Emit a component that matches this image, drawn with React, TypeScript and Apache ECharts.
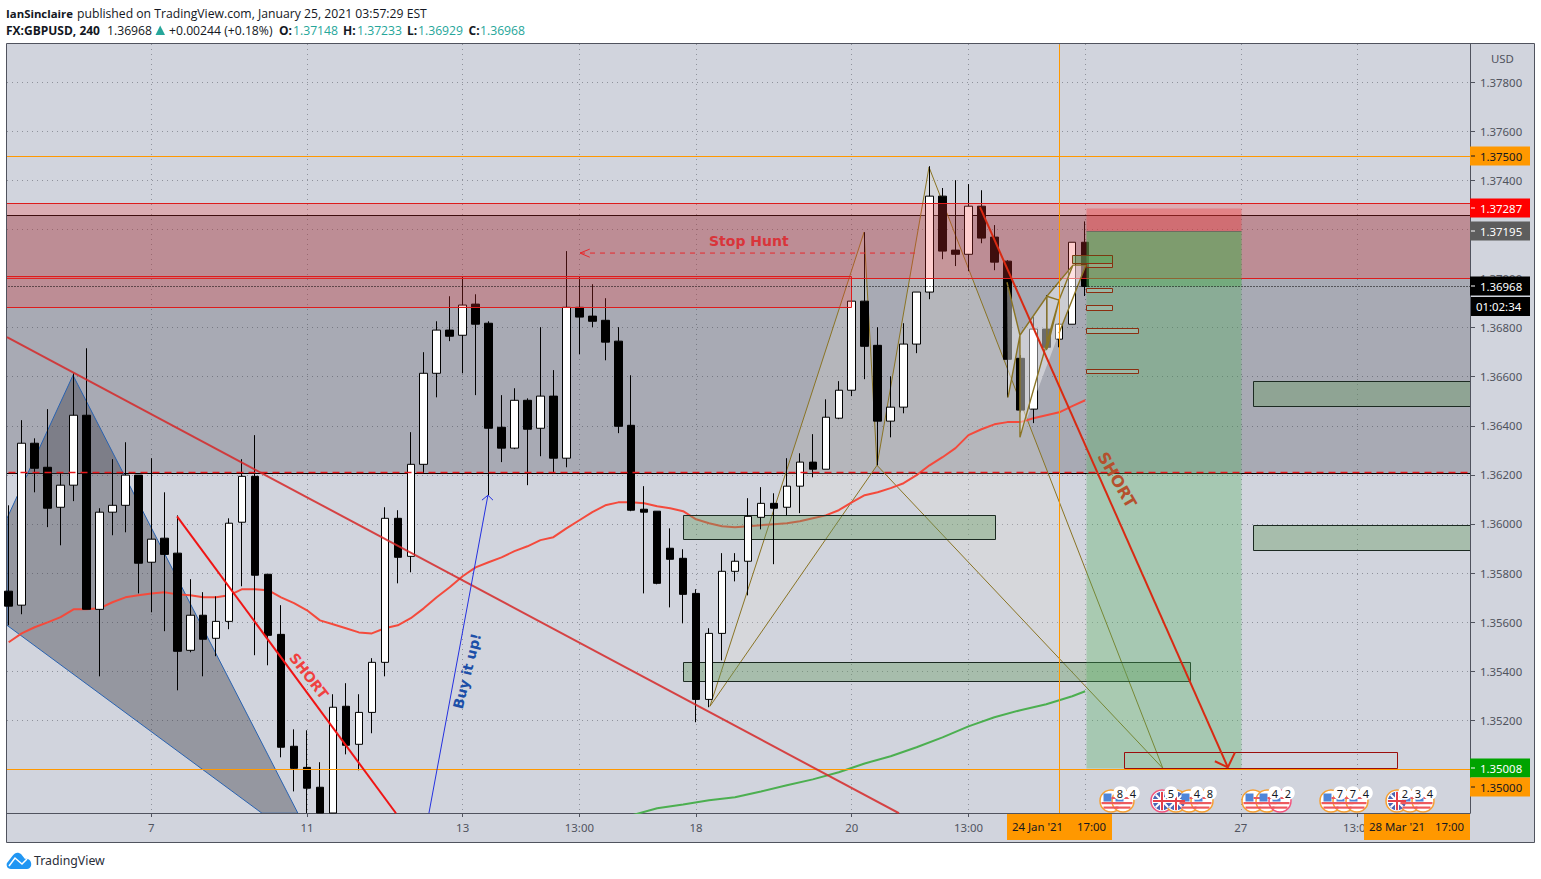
import React, { useEffect, useRef } from "react";
import * as echarts from "echarts";

// ---------- price data: [bar, open, close, low, high] ----------
const candles: number[][] = [
  [0,1.35726,1.35665,1.35587,1.36076],[1,1.35669,1.36329,1.35632,1.36423],[2,1.36329,1.36227,1.36129,1.36349],
  [3,1.36231,1.36064,1.35987,1.36468],[4,1.36068,1.36158,1.35913,1.36207],[5,1.36158,1.36443,1.36093,1.36614],
  [6,1.36443,1.35652,1.35652,1.36716],[7,1.35652,1.36048,1.35379,1.36064],[8,1.36048,1.36076,1.35954,1.36264],
  [9,1.36076,1.36199,1.35966,1.36333],[10,1.36199,1.35840,1.35717,1.36199],[11,1.35844,1.35938,1.35640,1.36268],
  [12,1.35942,1.35876,1.35563,1.36129],[13,1.35881,1.35481,1.35322,1.36035],[14,1.35485,1.35628,1.35477,1.35775],
  [15,1.35628,1.35530,1.35379,1.35722],[16,1.35534,1.35603,1.35461,1.35705],[17,1.35603,1.36003,1.35571,1.36023],
  [18,1.36007,1.36194,1.35746,1.36264],[19,1.36194,1.35791,1.35465,1.36362],[20,1.35795,1.35546,1.35424,1.35795],
  [21,1.35550,1.35090,1.35049,1.35669],[22,1.35094,1.35004,1.34910,1.35163],[23,1.35008,1.34923,1.34822,1.35159],
  [24,1.34927,1.34822,1.34822,1.35029],[25,1.34822,1.35253,1.34822,1.35306],[26,1.35257,1.35098,1.35061,1.35351],
  [27,1.35102,1.35232,1.34996,1.35306],[28,1.35232,1.35436,1.35147,1.35453],[29,1.35436,1.36023,1.35379,1.36068],
  [30,1.36023,1.35864,1.35758,1.36056],[31,1.35868,1.36243,1.35803,1.36374],[32,1.36243,1.36614,1.36207,1.36700],
  [33,1.36614,1.36790,1.36516,1.36826],[34,1.36790,1.36765,1.36745,1.36928],[35,1.36769,1.36892,1.36614,1.37010],
  [36,1.36896,1.36814,1.36525,1.36936],[37,1.36818,1.36390,1.36117,1.36826],[38,1.36394,1.36309,1.36252,1.36525],
  [39,1.36309,1.36504,1.36305,1.36553],[40,1.36504,1.36386,1.36158,1.36512],[41,1.36390,1.36521,1.36276,1.36802],
  [42,1.36521,1.36268,1.36207,1.36627],[43,1.36268,1.36883,1.36231,1.37112],[44,1.36883,1.36843,1.36692,1.37010],
  [45,1.36847,1.36826,1.36802,1.36977],[46,1.36830,1.36741,1.36667,1.36920],[47,1.36745,1.36398,1.36370,1.36802],
  [48,1.36402,1.36056,1.36052,1.36606],[49,1.36060,1.36048,1.35717,1.36154],[50,1.36052,1.35758,1.35754,1.36052],
  [51,1.35901,1.35856,1.35660,1.35982],[52,1.35860,1.35713,1.35595,1.35897],[53,1.35717,1.35285,1.35192,1.35734],
  [54,1.35285,1.35554,1.35253,1.35575],[55,1.35554,1.35807,1.35444,1.35881],[56,1.35807,1.35848,1.35766,1.35881],
  [57,1.35848,1.36031,1.35709,1.36105],[58,1.36027,1.36084,1.35978,1.36150],[59,1.36084,1.36064,1.35836,1.36125],
  [60,1.36068,1.36154,1.36035,1.36268],[61,1.36154,1.36252,1.36044,1.36288],[62,1.36252,1.36223,1.36190,1.36366],
  [63,1.36223,1.36435,1.36223,1.36508],[64,1.36431,1.36545,1.36427,1.36582],[65,1.36545,1.36908,1.36521,1.36908],
  [66,1.36908,1.36724,1.36590,1.37189],[67,1.36728,1.36419,1.36239,1.36802],[68,1.36419,1.36476,1.36353,1.36602],
  [69,1.36476,1.36733,1.36451,1.36818],[70,1.36733,1.36945,1.36696,1.36945],[71,1.36945,1.37336,1.36916,1.37458],
  [72,1.37336,1.37112,1.37079,1.37369],[73,1.37116,1.37099,1.37051,1.37401],[74,1.37099,1.37295,1.37030,1.37385],
  [75,1.37295,1.37165,1.37144,1.37360],[76,1.37169,1.37067,1.37034,1.37218],[77,1.37071,1.36671,1.36516,1.37075],
  [78,1.36675,1.36464,1.36455,1.36688],[79,1.36468,1.36794,1.36411,1.36843],[80,1.36794,1.36720,1.36708,1.36932],
  [81,1.36753,1.36814,1.36720,1.36818],[82,1.36814,1.37148,1.36814,1.37148],[83,1.37148,1.36968,1.36929,1.37233],
];

const redMA: number[] = [
  1.35518,1.35554,1.35579,1.35599,1.35620,1.35652,1.35652,1.35656,1.35681,1.35701,1.35709,1.35717,1.35722,1.35713,
  1.35709,1.35701,1.35701,1.35709,1.35734,1.35734,1.35730,1.35701,1.35677,1.35648,1.35607,1.35591,1.35575,1.35558,
  1.35554,1.35575,1.35587,1.35616,1.35656,1.35701,1.35742,1.35787,1.35823,1.35844,1.35864,1.35889,1.35909,1.35934,
  1.35946,1.35982,1.36015,1.36048,1.36076,1.36088,1.36088,1.36084,1.36072,1.36064,1.36052,1.36019,1.36003,1.35991,
  1.35987,1.35991,1.35995,1.35999,1.36003,1.36011,1.36023,1.36035,1.36056,1.36088,1.36117,1.36129,1.36146,1.36166,
  1.36199,1.36239,1.36272,1.36309,1.36362,1.36386,1.36406,1.36415,1.36415,1.36431,1.36443,1.36455,1.36480,1.36504,
];

const greenMA: number[][] = [
  [48,1.34812],[50,1.34841],[52,1.34857],[54,1.34874],[56,1.34886],[58,1.34910],[60,1.34935],[62,1.34959],[64,1.34988],
  [66,1.35024],[68,1.35053],[70,1.35090],[72,1.35130],[74,1.35175],[76,1.35212],[78,1.35241],[80,1.35265],[82,1.35298],[83,1.35318],
];

// ---------- axis ----------
const X_MIN = -0.13, X_MAX = 112.67, Y_MIN = 1.34822, Y_MAX = 1.37956;
const ZONE_L = -1, ZONE_R = 114;
const xGridBars = [11, 23, 35, 44, 53, 65, 74, 81, 83, 95, 104];
const xLabelBars = [11, 23, 35, 44, 53, 65, 74, 95, 104];
const xLabelTexts = ["7", "11", "13", "13:00", "18", "20", "13:00", "27", "13:00"];
const yGridValues = [1.35,1.352,1.354,1.356,1.358,1.36,1.362,1.364,1.366,1.368,1.37,1.372,1.374,1.376,1.378];
const yLabelValues = [1.352,1.354,1.356,1.358,1.36,1.362,1.364,1.366,1.368,1.37,1.374,1.376,1.378];

// ---------- drawings: rectangles [x0, price0, x1, price1] ----------
const greyZone = [[ZONE_L,1.37258,ZONE_R,1.36207]];
const supplyZones = [[ZONE_L,1.37307,ZONE_R,1.37002],[ZONE_L,1.37010,64.94,1.36883]];
const greenZones = [[52,1.36035,76.04,1.35938],[52,1.35436,91.08,1.35359],[95.94,1.36582,ZONE_R,1.36480],[95.94,1.35995,ZONE_R,1.35893]];
const targetBox = [[86,1.35069,107.04,1.35004]];
const positionRed = [[83.07,1.37287,95.01,1.37195]];
const positionGreen = [[83.07,1.37195,95.01,1.35004]];
const positionOpen = [[83.07,1.37195,95.01,1.36968]];
const fibGreen = [[81.98,1.37095,85.07,1.37063]];
const fibBoxes = [[83.07,1.37063,85.07,1.37046],[83.07,1.36961,85.07,1.36945],[83.07,1.36892,85.07,1.36871],[83.07,1.36798,87.08,1.36777],[83.07,1.36631,87.08,1.36614]];

// ---------- drawings: polylines and polygons [x, price] ----------
const trendLine = [[X_MIN,1.36761],[68.64,1.34821]];
const shortLine = [[12.98,1.36031],[29.86,1.34821]];
const bigArrow = [[74.89,1.37291],[94,1.35008]];
const bigArrowHead = [[93,1.35033],[94,1.35008],[94.55,1.35069]];
const buyArrow = [[32.4,1.34821],[36.95,1.36117]];
const buyArrowHead = [[36.49,1.36097],[36.95,1.36117],[37.34,1.36097]];
const stopHuntLine = [[44.05,1.37104],[70.1,1.37104]];
const stopHuntHead = [[44.8,1.3712],[44.05,1.37104],[44.8,1.37087]];
const leftPattern = [[X_MIN,1.36023],[4.96,1.36606],[22.3,1.34821],[19.53,1.34821],[X_MIN,1.35587]];
const bigA = [54.07,1.35257], bigB = [65.95,1.37189], bigC = [66.95,1.36239], bigD = [70.96,1.37454], bigE = [88.99,1.35004];
const P1 = [76.97,1.36985], P2 = [77.05,1.36516], P3 = [77.97,1.36769], P4 = [77.97,1.36353], P5 = [80.05,1.36928];
const P6 = [80.05,1.36712], P7 = [80.98,1.36912], P8 = [80.98,1.36777], P9 = [82.06,1.37055], P10 = [83.06,1.37055];
const smallPatternLine = [P1,P3,P2,P3,P4,P7,P5,P3,P5,P6,P7,P5,P9,P10,P8,P10,P9,P7];
const smallFillLeft = [P1,P3,P2];
const smallFillRight = [P3,P5,P9,P10,P8,P4];

// ---------- level lines [x0, price0, x1, price1] ----------
const orangeLevels = [[ZONE_L,1.375,ZONE_R,1.375],[ZONE_L,1.35,ZONE_R,1.35],[81,Y_MIN,81,Y_MAX]];
const lastPriceLine = [[ZONE_L,1.36968,ZONE_R,1.36968]];
const dashLine1362 = [[ZONE_L,1.36212,ZONE_R,1.36212]];
const positionEdge = [[83.07,1.37195,95.01,1.37195]];

// ---------- events: [x px, flag, highlighted] ----------
const flagIcons: [number, string, boolean][] = [
  [1111,"us",false],[1123,"us",false],[1162,"uk",true],[1176,"uk",false],[1189,"us",false],[1202,"us",false],
  [1253,"us",false],[1267,"us",false],[1280,"us",true],[1331,"us",false],[1344,"us",false],[1357,"us",false],
  [1397,"uk",false],[1410,"us",false],[1423,"us",false],
];
const flagNumbers: [number, string][] = [
  [1120,"8"],[1133,"4"],[1171,"5"],[1197,"4"],[1210,"8"],[1275,"4"],[1288,"2"],[1340,"7"],[1353,"7"],[1366,"4"],[1405,"2"],[1418,"3"],[1430,"4"],
];

// ---------- price tags ----------
const priceTags: [string, number, string, string][] = [
  ["1.37500",156,"#ff9800","#131722"],
  ["1.37287",208,"#ff0000","#ffffff"],
  ["1.37195",231,"#5d5d5d","#ffffff"],
  ["1.36968",286,"#000000","#ffffff"],
  ["1.35008",768,"#00a300","#ffffff"],
  ["1.35000",787,"#ff9800","#131722"],
];

const FONT = '"Noto Sans", sans-serif';
const HEAD = '"Open Sans", sans-serif';
const AXIS = "#50535e";
const OLIVE = "#8a7424";
const LOGO_PATH = "M5 17C1 17 0 13 1 11L6 4.5C8 1 11 0 13 1L15 2L19 7C24 6 26 11 25 14C24 16 23 17 21 17Z";

function crisp(v: number) { return Math.round(v) + 0.5; }

function rectSeries(name: string, rects: number[][], style: any, z: number) {
  return {
    type: "custom", name, coordinateSystem: "cartesian2d", clip: true, silent: true, z, data: rects,
    encode: { x: [0, 2], y: [1, 3] },
    renderItem: (_: any, api: any) => {
      const a = api.coord([api.value(0), api.value(1)]);
      const b = api.coord([api.value(2), api.value(3)]);
      const x0 = crisp(a[0]), y0 = crisp(a[1]);
      return { type: "rect", shape: { x: x0, y: y0, width: crisp(b[0]) - x0, height: crisp(b[1]) - y0 }, style };
    },
  };
}
function levelSeries(name: string, lines: number[][], style: any, z: number) {
  return {
    type: "custom", name, coordinateSystem: "cartesian2d", clip: true, silent: true, z, data: lines,
    encode: { x: [0, 2], y: [1, 3] },
    renderItem: (_: any, api: any) => {
      const a = api.coord([api.value(0), api.value(1)]);
      const b = api.coord([api.value(2), api.value(3)]);
      return { type: "line", shape: { x1: crisp(a[0]), y1: crisp(a[1]), x2: crisp(b[0]), y2: crisp(b[1]) }, style };
    },
  };
}
function polySeries(name: string, pts: number[][], style: any, z: number) {
  return {
    type: "custom", name, coordinateSystem: "cartesian2d", clip: true, silent: true, z, data: pts,
    encode: { x: 0, y: 1 },
    renderItem: (p: any, api: any) => {
      if (p.dataIndex !== 0) return null;
      return { type: "polygon", shape: { points: pts.map((q) => api.coord(q)) }, style };
    },
  };
}
function lineSeries(name: string, data: any[], color: string, width: number, z: number, type: any = "solid") {
  return {
    type: "line", name, data, z, silent: true, showSymbol: false, symbol: "none", clip: true, smooth: false,
    lineStyle: { color, width, type }, emphasis: { disabled: true },
  };
}

function flagGraphic(x: number, kind: string, hot: boolean): any[] {
  const y = 801, r = 11;
  const ring = hot ? "#f2547d" : "#f6a033";
  const base: any[] = [{ type: "circle", z: 101, shape: { cx: x, cy: y, r }, style: { fill: "#fff", stroke: ring, lineWidth: 1.5 } }];
  if (kind === "us") {
    base.push({ type: "rect", z: 102, shape: { x: x - 7.5, y: y - 7.5, width: 8, height: 8 }, style: { fill: "#4f86d9" } });
    base.push({ type: "rect", z: 102, shape: { x: x + 0.5, y: y - 4, width: 8, height: 2 }, style: { fill: "#ee5a5f" } });
    base.push({ type: "rect", z: 102, shape: { x: x - 9.5, y: y + 1, width: 19, height: 2.2 }, style: { fill: "#ee5a5f" } });
    base.push({ type: "rect", z: 102, shape: { x: x - 7.5, y: y + 5.5, width: 15, height: 2.2 }, style: { fill: "#ee5a5f" } });
  } else {
    base.push({ type: "circle", z: 102, shape: { cx: x, cy: y, r: 9.2 }, style: { fill: "#4a66b5" } });
    base.push({ type: "line", z: 102, shape: { x1: x - 6.3, y1: y - 6.3, x2: x + 6.3, y2: y + 6.3 }, style: { stroke: "#fff", lineWidth: 2 } });
    base.push({ type: "line", z: 102, shape: { x1: x - 6.3, y1: y + 6.3, x2: x + 6.3, y2: y - 6.3 }, style: { stroke: "#fff", lineWidth: 2 } });
    base.push({ type: "rect", z: 102, shape: { x: x - 2, y: y - 9, width: 4, height: 18 }, style: { fill: "#fff" } });
    base.push({ type: "rect", z: 102, shape: { x: x - 9, y: y - 2, width: 18, height: 4 }, style: { fill: "#fff" } });
    base.push({ type: "rect", z: 103, shape: { x: x - 1, y: y - 9, width: 2, height: 18 }, style: { fill: "#e5404a" } });
    base.push({ type: "rect", z: 103, shape: { x: x - 9, y: y - 1, width: 18, height: 2 }, style: { fill: "#e5404a" } });
  }
  return base;
}

function txt(text: string, x: number, y: number, fill: string, font: string, extra: any = {}) {
  return { type: "text", z: 110, x, y, style: { text, fill, font, verticalAlign: "middle", ...extra } };
}

echarts.graphic.registerShape("tvLogo", echarts.graphic.extendPath(LOGO_PATH, {}) as any);

export default function App() {
  const ref = useRef<HTMLDivElement>(null);
  useEffect(() => {
    document.body.style.margin = "0";
    const chart = echarts.init(ref.current!, undefined, { renderer: "svg" });

    const priceTagGraphics: any[] = [];
    priceTags.forEach(([label, y, bg, fg]) => {
      priceTagGraphics.push({ type: "rect", z: 105, shape: { x: 1470, y: y - 9.5, width: 60, height: 19 }, style: { fill: bg } });
      priceTagGraphics.push({ type: "rect", z: 106, shape: { x: 1471, y: y - 0.5, width: 4, height: 1 }, style: { fill: fg } });
      priceTagGraphics.push(txt(label, 1480, y, fg, `11.4px ${FONT}`));
    });

    const graphic: any[] = [
      { type: "rect", z: -1, shape: { x: 6.5, y: 43.5, width: 1528, height: 799 }, style: { fill: "#d1d4dd", stroke: AXIS, lineWidth: 1 } },
      // header
      txt("IanSinclaire", 6, 13, "#131722", `bold 11.4px ${HEAD}`),
      txt("published on TradingView.com, January 25, 2021 03:57:29 EST", 77, 13, "#131722", `12.2px ${HEAD}`),
      txt("FX:GBPUSD, 240", 6, 30, "#131722", `bold 12px ${HEAD}`),
      txt("1.36968", 107, 30, "#131722", `12.2px ${HEAD}`),
      { type: "polygon", z: 110, shape: { points: [[155.5, 35], [165, 35], [160.2, 25.5]] }, style: { fill: "#26a69a" } },
      txt("+0.00244 (+0.18%)", 169, 30, "#131722", `12.2px ${HEAD}`),
      txt("O:", 279, 30, "#131722", `bold 12px ${HEAD}`),
      txt("1.37148", 293, 30, "#26a69a", `12.2px ${HEAD}`),
      txt("H:", 343, 30, "#131722", `bold 12px ${HEAD}`),
      txt("1.37233", 357, 30, "#26a69a", `12.2px ${HEAD}`),
      txt("L:", 407, 30, "#131722", `bold 12px ${HEAD}`),
      txt("1.36929", 418, 30, "#26a69a", `12.2px ${HEAD}`),
      txt("C:", 468.5, 30, "#131722", `bold 12px ${HEAD}`),
      txt("1.36968", 480, 30, "#26a69a", `12.2px ${HEAD}`),
      // annotations
      txt("Stop Hunt", 709, 241, "#d9343a", 'bold 14px "DejaVu Sans"'),
      { type: "text", z: 110, x: 309, y: 676, rotation: (-52 * Math.PI) / 180, style: { text: "SHORT", fill: "#f0413f", font: 'bold 14px "DejaVu Sans"', align: "center", verticalAlign: "middle" } },
      { type: "text", z: 110, x: 1117, y: 480, rotation: (-60 * Math.PI) / 180, style: { text: "SHORT", fill: "#b5502e", font: 'bold 16px "DejaVu Sans"', align: "center", verticalAlign: "middle" } },
      { type: "text", z: 110, x: 467, y: 671, rotation: (76 * Math.PI) / 180, style: { text: "Buy it up!", fill: "#1c4fa8", font: 'bold 14px "DejaVu Sans"', align: "center", verticalAlign: "middle" } },
      // axis title and tags
      txt("USD", 1491, 58, AXIS, `11.4px ${FONT}`),
      ...priceTagGraphics,
      { type: "rect", z: 105, shape: { x: 1471, y: 297, width: 59, height: 19 }, style: { fill: "#000" } },
      txt("01:02:34", 1476, 306.5, "#fff", `11.4px ${FONT}`),
      { type: "rect", z: 105, shape: { x: 1007, y: 814, width: 105, height: 26 }, style: { fill: "#ff9800" } },
      txt("24 Jan '21", 1012, 826, "#131722", `11.4px ${FONT}`),
      txt("17:00", 1077, 826, "#131722", `11.4px ${FONT}`),
      { type: "rect", z: 105, shape: { x: 1364, y: 814, width: 106, height: 26 }, style: { fill: "#ff9800" } },
      txt("28 Mar '21", 1369, 826, "#131722", `11.4px ${FONT}`),
      txt("17:00", 1435, 826, "#131722", `11.4px ${FONT}`),
      // footer
      { type: "tvLogo", z: 110, x: 6, y: 852, style: { fill: "#2196f3" } },
      { type: "polyline", z: 111, shape: { points: [[9, 866], [15, 858], [22, 864], [27, 859]] }, style: { stroke: "#fff", lineWidth: 1.5, fill: "none" } },
      txt("TradingView", 34, 860, "#2a2e39", `12.3px ${FONT}`),
    ];
    flagIcons.forEach(([x, k, hot]) => graphic.push(...flagGraphic(x, k, hot)));
    flagNumbers.forEach(([x, n]) => {
      graphic.push({ type: "circle", z: 104, shape: { cx: x, cy: 793, r: 6.8 }, style: { fill: "#fff" } });
      graphic.push({ type: "text", z: 110, x, y: 793, style: { text: n, fill: "#131722", font: `11px ${FONT}`, align: "center", verticalAlign: "middle" } });
    });

    chart.setOption({
      animation: false,
      backgroundColor: "transparent",
      tooltip: { show: false },
      grid: { left: 7, top: 44, width: 1463, height: 769, containLabel: false },
      xAxis: {
        type: "value", min: X_MIN, max: X_MAX, scale: true,
        axisLine: { show: true, onZero: false, lineStyle: { color: AXIS } },
        axisTick: { show: true, length: 4, lineStyle: { color: AXIS }, customValues: xGridBars },
        axisLabel: {
          show: true, color: AXIS, fontFamily: '"Noto Sans"', fontSize: 11.4, margin: 9, customValues: xLabelBars,
          formatter: (v: number) => xLabelTexts[xLabelBars.indexOf(Math.round(v))] ?? "",
        },
        splitLine: { show: true, lineStyle: { color: "#8f929b", type: [1, 4], width: 1 } },
      },
      yAxis: {
        type: "value", min: Y_MIN, max: Y_MAX, position: "right", scale: true,
        axisLine: { show: true, onZero: false, lineStyle: { color: AXIS } },
        axisTick: { show: true, length: 5, lineStyle: { color: AXIS }, customValues: yGridValues },
        axisLabel: {
          show: true, color: AXIS, fontFamily: '"Noto Sans"', fontSize: 11.4, margin: 10, customValues: yLabelValues,
          formatter: (v: number) => v.toFixed(5),
        },
        splitLine: { show: true, lineStyle: { color: "#8f929b", type: [1, 4], width: 1 } },
      },
      graphic,
      series: [
        rectSeries("Grey range", greyZone, { fill: "rgba(60,60,70,0.27)", stroke: "#000", lineWidth: 1 }, 2),
        polySeries("Left pattern", leftPattern, { fill: "rgba(60,60,70,0.4)", stroke: "#2962b0", lineWidth: 1 }, 3),
        polySeries("Pattern fill 1", [bigA, bigB, bigC], { fill: "rgba(235,232,215,0.2)" }, 3),
        polySeries("Pattern fill 2", [bigC, bigD, bigE], { fill: "rgba(235,232,215,0.2)" }, 3),
        lineSeries("Pattern", [bigA, bigB, bigC, bigD, bigE, bigC, bigA], OLIVE, 1, 4),
        lineSeries("EMA red", redMA.map((v, i) => [i, v]), "#f44a3c", 2, 5),
        lineSeries("EMA green", greenMA, "#4caf50", 2, 5),
        rectSeries("Demand zones", greenZones, { fill: "rgba(105,155,100,0.4)", stroke: "#1c2a22", lineWidth: 1 }, 6),
        {
          type: "candlestick", name: "GBPUSD", data: candles, z: 7, barWidth: 8, silent: true, clip: true,
          encode: { x: 0, y: [1, 2, 3, 4] },
          itemStyle: { color: "#ffffff", color0: "#000000", borderColor: "#000000", borderColor0: "#000000", borderWidth: 1 },
        },
        rectSeries("Supply zones", supplyZones, { fill: "rgba(250,55,55,0.25)", stroke: "#dd1c1c", lineWidth: 1 }, 8),
        polySeries("Small fill left", smallFillLeft, { fill: "rgba(255,255,255,0.42)" }, 9),
        polySeries("Small fill right", smallFillRight, { fill: "rgba(255,255,255,0.42)" }, 9),
        rectSeries("Position target", positionRed, { fill: "rgba(240,60,60,0.38)" }, 9),
        rectSeries("Position stop", positionGreen, { fill: "rgba(80,175,90,0.33)" }, 9),
        rectSeries("Position open", positionOpen, { fill: "rgba(60,170,60,0.28)" }, 9),
        levelSeries("Position edge", positionEdge, { stroke: "#6d6d60", lineWidth: 1 }, 10),
        lineSeries("Small pattern", smallPatternLine, OLIVE, 1.4, 10),
        rectSeries("Fib green", fibGreen, { fill: "rgba(95,170,95,0.55)", stroke: "#7a3a10", lineWidth: 1 }, 10),
        rectSeries("Fib boxes", fibBoxes, { fill: "rgba(255,255,255,0.15)", stroke: "#8b2e10", lineWidth: 1 }, 10),
        rectSeries("Target box", targetBox, { fill: "rgba(0,0,0,0)", stroke: "#9b0d0d", lineWidth: 1 }, 10),
        levelSeries("Orange levels", orangeLevels, { stroke: "#ff9800", lineWidth: 1 }, 11),
        levelSeries("Last price", lastPriceLine, { stroke: "#000", lineWidth: 1, lineDash: [1, 2] }, 11),
        levelSeries("Level 1.362", dashLine1362, { stroke: "#e6191c", lineWidth: 1.6, lineDash: [7, 5] }, 11),
        lineSeries("Trend", trendLine, "rgba(214,40,40,0.85)", 2, 12),
        lineSeries("Short", shortLine, "#f01414", 2, 12),
        lineSeries("Big arrow", bigArrow, "#d82a12", 2, 12),
        lineSeries("Big arrow head", bigArrowHead, "#d82a12", 2, 12),
        lineSeries("Buy arrow", buyArrow, "#2430e0", 1, 12),
        lineSeries("Buy head", buyArrowHead, "#2430e0", 1, 12),
        lineSeries("Stop hunt", stopHuntLine, "#e8282c", 1, 12, [5, 5]),
        lineSeries("Stop hunt head", stopHuntHead, "#e8282c", 1, 12),
      ],
    });
    return () => chart.dispose();
  }, []);
  return <div ref={ref} style={{ position: "absolute", left: 0, top: 0, width: 1541, height: 879, background: "#fff" }} />;
}
